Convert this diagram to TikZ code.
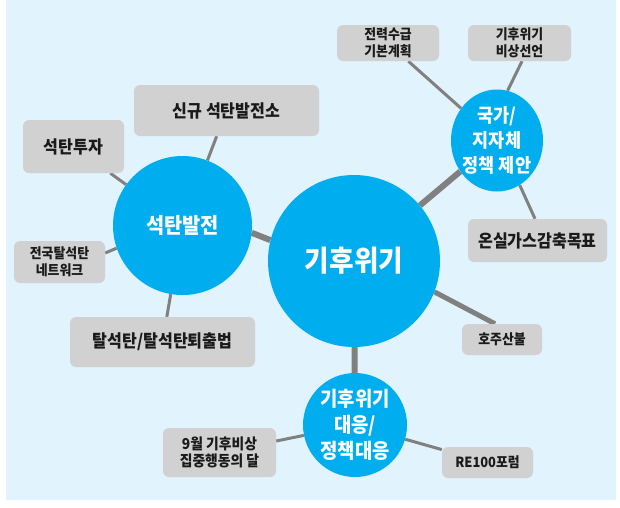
\documentclass[tikz,border=0pt]{standalone}
\usepackage{fontspec}
\setmainfont{Noto Sans CJK KR}[FakeStretch=0.92]
\usetikzlibrary{shapes.geometric}
\pgfdeclarelayer{bgl}
\pgfdeclarelayer{linel}
\pgfsetlayers{bgl,linel,main}
\definecolor{bgblue}{HTML}{E1F3FC}
\definecolor{cblue}{HTML}{00AEEF}
\definecolor{boxgray}{HTML}{D1D1D1}
\definecolor{linegray}{HTML}{808080}
\definecolor{txt}{HTML}{1A1A1A}
\begin{document}
\begin{tikzpicture}[x=1pt,y=-1pt,
  bubble/.style={fill=cblue, draw=none, inner sep=0pt},
  bubtext/.style={text=white, inner sep=0pt, align=center},
  tag/.style={rounded corners=6pt, fill=boxgray, text=txt, inner sep=0pt, align=center},
  conn/.style={draw=linegray, line width=3pt},
  connmid/.style={draw=linegray, line width=5pt},
  connbig/.style={draw=linegray, line width=6pt}]
\useasboundingbox (0,0) rectangle (620,507);
\begin{pgfonlayer}{bgl}
\fill[bgblue] (6,0) rectangle (616,500);
\end{pgfonlayer}

% circles
\node[bubble, circle, minimum size=172pt] (M) at (354,261) {};
\node[bubtext, font=\fontsize{29}{31}\selectfont\bfseries] at (M) {기후위기};
\node[bubble, circle, minimum size=139pt] (S) at (182.5,225.5) {};
\node[bubtext, font=\fontsize{21.5}{24}\selectfont\bfseries] at (S) {석탄발전};
\node[bubble, ellipse, minimum width=92pt, minimum height=102pt] (N) at (497,140.5) {};
\node[bubtext, font=\fontsize{19}{25}\selectfont\bfseries] at (N) {국가/\\지자체\\정책 제안};
\node[bubble, circle, minimum size=104pt] (R) at (355,425) {};
\node[bubtext, font=\fontsize{20.5}{26}\selectfont\bfseries] at (R) {기후위기\\대응/\\정책대응};

% boxes
\node[tag, minimum width=102pt, minimum height=36pt, font=\fontsize{14}{17}\selectfont\bfseries] (a) at (388,43) {전력수급\\기본계획};
\node[tag, minimum width=103pt, minimum height=36pt, font=\fontsize{14}{17}\selectfont\bfseries] (b) at (519.5,43) {기후위기\\비상선언};
\node[tag, minimum width=185pt, minimum height=51pt, font=\fontsize{17.5}{20}\selectfont\bfseries] (c) at (226.5,110.5) {신규 석탄발전소};
\node[tag, minimum width=101pt, minimum height=53pt, font=\fontsize{17.5}{20}\selectfont\bfseries] (d) at (73.5,146.5) {석탄투자};
\node[tag, minimum width=91pt, minimum height=42pt, font=\fontsize{14}{17}\selectfont\bfseries] (e) at (59.5,262) {전국탈석탄\\네트워크};
\node[tag, minimum width=185pt, minimum height=50pt, font=\fontsize{17.5}{20}\selectfont\bfseries] (f) at (162.5,342) {탈석탄/탈석탄퇴출법};
\node[tag, minimum width=139pt, minimum height=43pt, font=\fontsize{17.5}{20}\selectfont\bfseries] (g) at (537.5,240.5) {온실가스감축목표};
\node[tag, minimum width=80pt, minimum height=31pt, font=\fontsize{14}{17}\selectfont\bfseries] (h) at (502,339.5) {호주산불};
\node[tag, minimum width=113pt, minimum height=49pt, font=\fontsize{15}{17}\selectfont\bfseries] (i) at (219.5,452.5) {9월 기후비상\\집중행동의 달};
\node[tag, minimum width=91pt, minimum height=31pt, font=\fontsize{14}{17}\selectfont\bfseries] (j) at (487.5,462.5) {RE100포럼};

\begin{pgfonlayer}{linel}
\draw[connbig] (S.-6) -- (M.166);
\draw[connbig] (M) -- (N);
\draw[connbig] (M) -- (R);
\draw[connmid] (M.-21) -- ([xshift=-7pt]h.north);
\draw[conn] (c) -- (S);
\draw[conn] (d) -- (S);
\draw[conn] ([yshift=9pt]e.east) -- (S.199);
\draw[conn] (f) -- (S);
\draw[conn] (a) -- (N);
\draw[conn] ([xshift=2.5pt]b.south) -- (N.78);
\draw[conn] (N.-63) -- ([xshift=-2.5pt]g.north);
\draw[conn] (i) -- (R);
\draw[conn] (R) -- (j);
\end{pgfonlayer}
\end{tikzpicture}
\end{document}
